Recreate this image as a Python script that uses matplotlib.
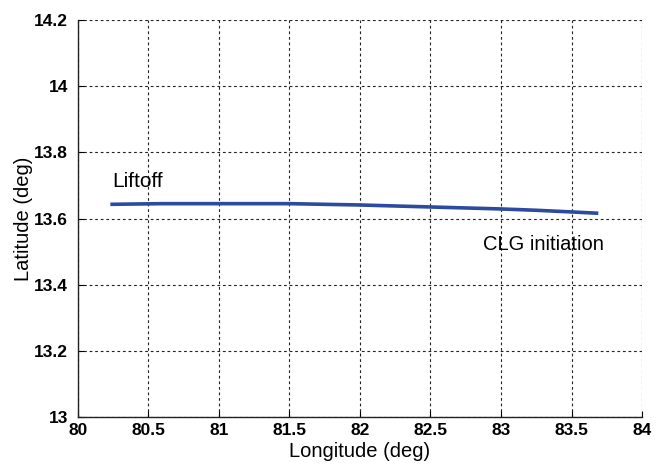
import matplotlib
matplotlib.use("Agg")
import matplotlib.pyplot as plt

# Ground track from liftoff to closed-loop guidance initiation
longitude = [80.23, 80.6, 81.0, 81.5, 81.75, 82.0, 82.25, 82.5, 82.75, 83.0, 83.25, 83.5, 83.69]
latitude = [13.643, 13.645, 13.645, 13.645, 13.643, 13.641, 13.638, 13.635, 13.632, 13.629, 13.625, 13.620, 13.616]

x_ticks = [80, 80.5, 81, 81.5, 82, 82.5, 83, 83.5, 84]
x_tick_labels = ["80", "80.5", "81", "81.5", "82", "82.5", "83", "83.5", "84"]
y_ticks = [13, 13.2, 13.4, 13.6, 13.8, 14, 14.2]
y_tick_labels = ["13", "13.2", "13.4", "13.6", "13.8", "14", "14.2"]

plt.rcParams['font.family'] = ['Liberation Sans', 'DejaVu Sans']

fig = plt.figure(figsize=(6.66, 4.65), dpi=100)
ax = fig.add_axes([0.117, 0.103, 0.847, 0.854])

ax.plot(longitude, latitude, color="#2b4aa0", linewidth=2.6, solid_capstyle="butt")

ax.set_xlim(80, 84)
ax.set_ylim(13, 14.2)
ax.set_xticks(x_ticks)
ax.set_xticklabels(x_tick_labels, fontweight="bold", fontsize=12.5)
ax.set_yticks(y_ticks)
ax.set_yticklabels(y_tick_labels, fontweight="bold", fontsize=12.5)
ax.tick_params(axis="x", direction="in", length=4, width=0.8, pad=4, top=False)
ax.tick_params(axis="y", direction="in", length=4, width=0.8, pad=7, right=False)

ax.grid(True, color="#222222", linestyle=(0, (2.5, 2.5)), linewidth=0.8)
for side in ("top", "right"):
    ax.spines[side].set_visible(False)
for side in ("left", "bottom"):
    ax.spines[side].set_linewidth(1.0)
    ax.spines[side].set_color("#222222")

ax.set_xlabel("Longitude (deg)", fontsize=14.5, labelpad=3)
ax.set_ylabel("Latitude (deg)", fontsize=14.5, labelpad=1)

ax.text(80.24, 13.695, "Liftoff", fontsize=15, ha="left", va="baseline")
ax.text(82.87, 13.505, "CLG initiation", fontsize=14.5, ha="left", va="baseline")

fig.savefig("out.png", dpi=100)
